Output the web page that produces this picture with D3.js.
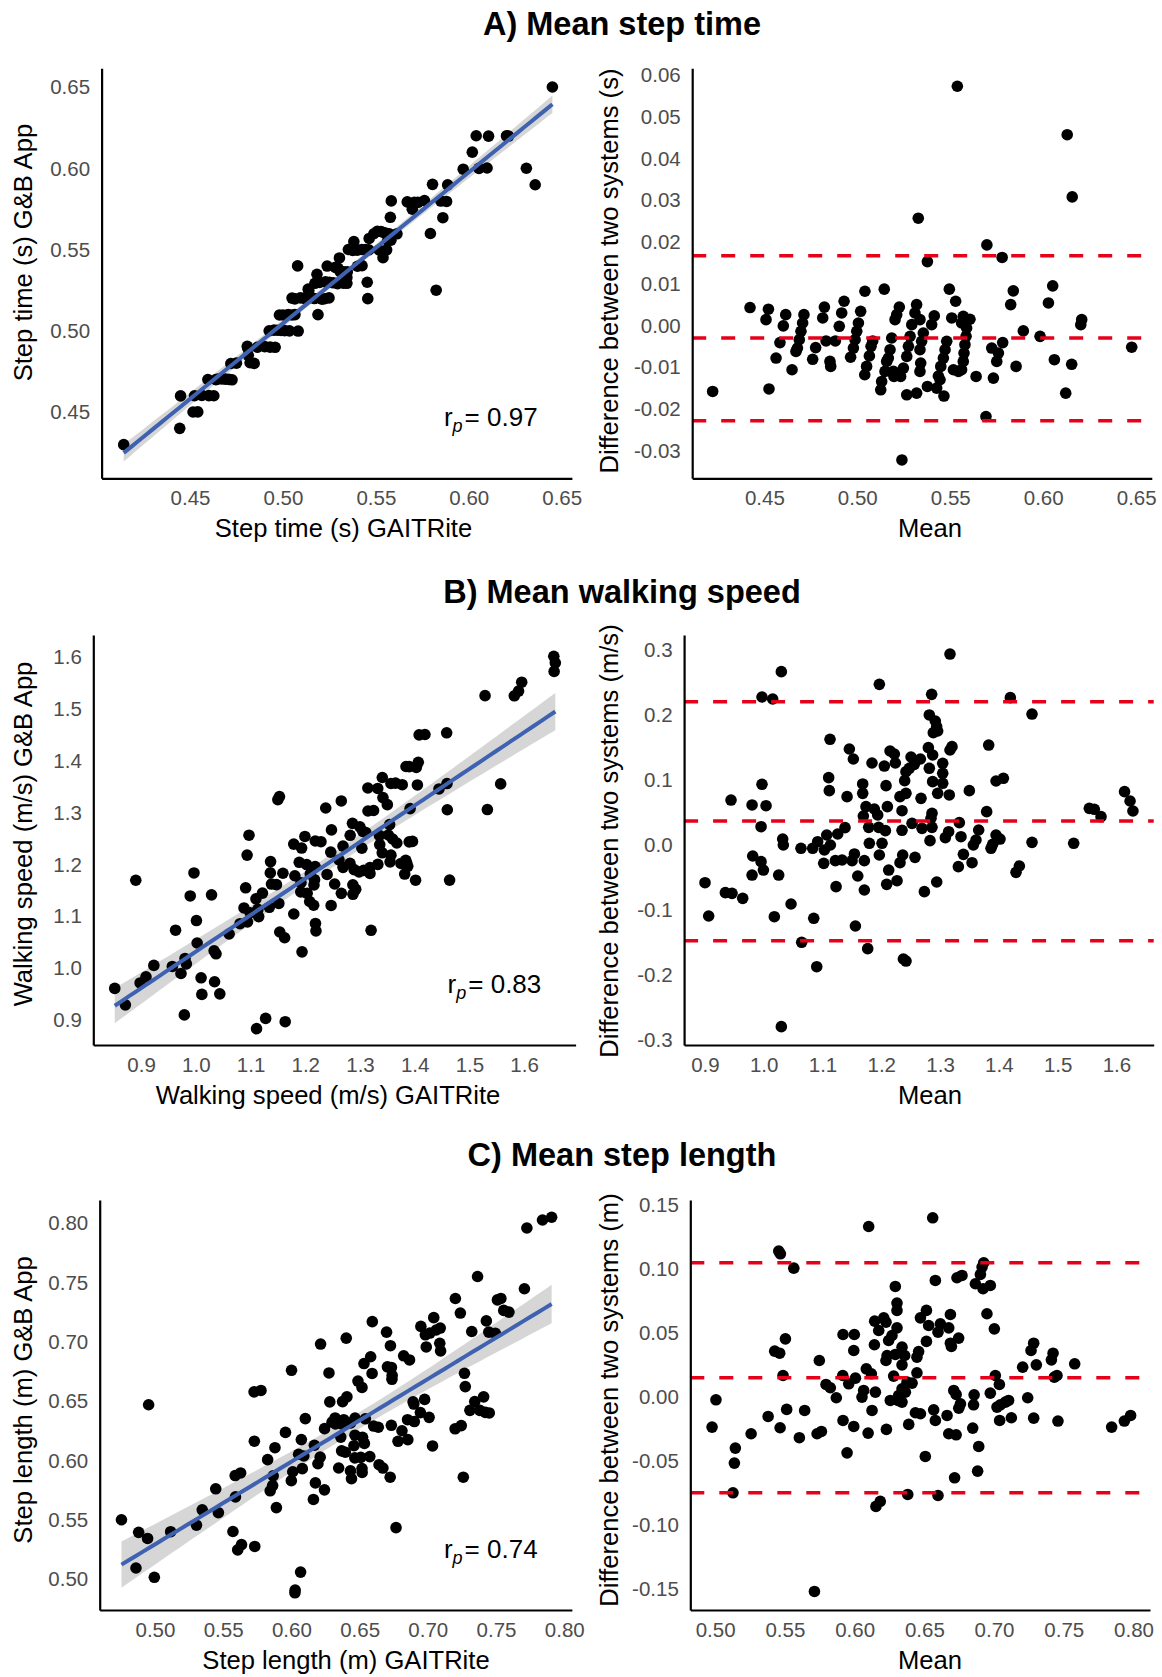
<!DOCTYPE html>
<html>
<head>
<meta charset="utf-8">
<script src="https://cdn.jsdelivr.net/npm/d3@7"></script>
<style>
    body { margin: 0; background: #fff; }
    text { font-family: "Liberation Sans", Arial, sans-serif; }
</style>
</head>
<body>
<svg id="vis_svg"></svg>
<script>
// Values: mean of both systems and GAITRite minus G&B App.
// The scatter panels use the same pairs, turned back into GAITRite / App values.
const stepTimeMean = [
    0.4423, 0.4522, 0.4509, 0.4615, 0.4602, 0.4713, 0.4706, 0.4697, 0.4688, 0.4678,
    0.4670, 0.4584, 0.4563, 0.4649, 0.4823, 0.4814, 0.4929, 0.4916, 0.4903, 0.4832,
    0.4882, 0.4776, 0.4760, 0.4853, 0.4857, 0.5041, 0.5018, 0.5006, 0.4997, 0.4988,
    0.4979, 0.4964, 0.5145, 0.5083, 0.5074, 0.5065, 0.5050, 0.5040, 0.5226, 0.5212,
    0.5203, 0.5185, 0.5176, 0.5167, 0.5158, 0.5149, 0.5131, 0.5126, 0.5319, 0.5310,
    0.5337, 0.5293, 0.5284, 0.5275, 0.5266, 0.5248, 0.5233, 0.5194, 0.5197, 0.5266,
    0.5319, 0.5377, 0.5427, 0.5466, 0.5436, 0.5445, 0.5400, 0.5414, 0.5355, 0.5346,
    0.5337, 0.5341, 0.5337, 0.5481, 0.5472, 0.5463, 0.5449, 0.5495, 0.5529, 0.5508,
    0.5570, 0.5606, 0.5561, 0.5588, 0.5585, 0.5579, 0.5574, 0.5570, 0.5561, 0.5517,
    0.5544, 0.5639, 0.5692, 0.5732, 0.5723, 0.5782, 0.5759, 0.5750, 0.5854, 0.5839,
    0.5825, 0.5893, 0.5983, 0.6051, 0.6028, 0.6060, 0.6121, 0.6153, 0.6207, 0.6202,
    0.4222, 0.4525, 0.5538, 0.6129, 0.6156, 0.5328, 0.5697, 0.5779, 0.5377, 0.5240, 0.6476
];
const stepTimeDiff = [
    0.0043, 0.0039, 0.0014, 0.0026, -0.0001, 0.0026, 0.0006, -0.0014, -0.0034, -0.0054,
    -0.0062, -0.0041, -0.0078, -0.0106, 0.0044, 0.0018, 0.0058, 0.0030, -0.0002, -0.0037,
    -0.0037, -0.0053, -0.0081, -0.0086, -0.0098, 0.0082, 0.0034, 0.0006, -0.0014, -0.0034,
    -0.0054, -0.0076, 0.0087, -0.0037, -0.0050, -0.0073, -0.0098, -0.0118, 0.0044, 0.0026,
    0.0014, -0.0030, -0.0058, -0.0078, -0.0086, -0.0110, -0.0134, -0.0154, 0.0050, 0.0030,
    0.0014, 0.0002, -0.0026, -0.0050, -0.0074, -0.0102, -0.0122, -0.0110, -0.0122, -0.0166,
    -0.0162, -0.0146, -0.0150, -0.0169, -0.0121, -0.0130, 0.0002, 0.0023, -0.0018, -0.0038,
    -0.0058, -0.0090, -0.0110, -0.0038, -0.0058, -0.0078, -0.0098, 0.0087, 0.0058, 0.0018,
    0.0022, 0.0015, 0.0006, -0.0006, -0.0026, -0.0046, -0.0066, -0.0086, -0.0106, -0.0106,
    -0.0110, -0.0122, -0.0218, -0.0126, -0.0054, -0.0041, -0.0066, -0.0086, -0.0098, 0.0083,
    0.0050, -0.0013, -0.0026, 0.0095, 0.0054, -0.0082, -0.0162, -0.0093, 0.0014, 0.0002,
    -0.0158, -0.0152, 0.0573, 0.0457, 0.0308, 0.0257, 0.0193, 0.0163, 0.0153, -0.0322, -0.0052
];

const walkSpeedMean = [
    1.3169, 1.0300, 1.1967, 0.9971, 1.0153, 1.2857, 1.4195, 1.4564, 1.2817, 1.2919,
    1.2942, 1.2885, 1.2959, 1.1128, 1.3827, 1.1457, 1.1525, 1.2149, 1.2222, 1.2801,
    1.2874, 1.3169, 1.3203, 1.1842, 1.2052, 1.2239, 1.2506, 1.2665, 1.2562, 1.2477,
    1.2420, 1.3045, 1.2817, 1.3045, 1.1105, 1.1116, 1.2398, 1.2874, 1.3045, 1.1684,
    1.1684, 1.2081, 1.2420, 1.2318, 1.2959, 1.3157, 1.3498, 1.3952, 1.4077, 1.1418,
    1.2676, 0.9971, 0.9444, 0.9802, 1.0040, 0.9955, 1.1740, 1.1882, 1.1939, 1.1695,
    1.2104, 1.2353, 1.2863, 1.2846, 1.3793, 1.5539, 1.5624, 1.5738, 1.2523, 1.1786,
    1.1956, 1.2070, 1.2353, 1.2693, 1.2863, 1.3328, 1.1383, 1.1259, 1.1072, 1.3657,
    1.3146, 1.3090, 1.3356, 1.3952, 1.4020, 1.0323, 1.0334, 1.0918, 1.0833, 1.1134,
    1.0634, 1.1797, 1.2013, 1.2829, 1.3611, 1.3566, 1.3895, 1.4564, 1.5273,
    1.1967, 1.1032, 0.9813, 0.9955, 0.9995, 0.9802, 1.0255, 1.1021, 1.1219, 1.1333,
    1.1503, 1.1543, 1.1712, 1.1600, 1.1231, 1.1712, 1.2126, 1.2092, 1.2268, 1.2364,
    1.2319, 1.2574, 1.2733, 1.2943, 1.3397, 1.3544, 1.3311, 1.4349, 1.4292, 0.9002,
    0.9348, 0.9461, 0.9643, 0.9064, 1.0181, 1.0465, 1.0851, 1.1560, 1.0646, 1.1769,
    1.0902, 1.2376, 1.2421, 1.0300, 1.3867, 1.6138, 1.6232, 1.6281
];
const walkSpeedDiff = [
    0.2938, 0.2667, 0.2472, 0.2277, 0.2246, 0.2318, 0.2267, 0.2015, 0.2001, 0.1908,
    0.1821, 0.1728, 0.1754, 0.1626, 0.1538, 0.1477, 0.1323, 0.1446, 0.1400, 0.1498,
    0.1385, 0.1462, 0.1513, 0.1262, 0.1215, 0.1262, 0.1354, 0.1323, 0.1241, 0.1180,
    0.1128, 0.1257, 0.1180, 0.1103, 0.1036, 0.0836, 0.0990, 0.0975, 0.0949, 0.0939,
    0.0795, 0.0913, 0.0795, 0.0744, 0.0795, 0.0770, 0.0836, 0.0985, 0.1026, 0.0744,
    0.0718, 0.0934, 0.0692, 0.0616, 0.0605, 0.0282, 0.0590, 0.0554, 0.0462, 0.0446,
    0.0590, 0.0528, 0.0487, 0.0410, 0.0513, 0.0564, 0.0549, 0.0436, 0.0333, 0.0272,
    0.0272, 0.0221, 0.0226, 0.0256, 0.0272, 0.0344, 0.0267, 0.0169, 0.0154, 0.0231,
    0.0205, 0.0113, 0.0128, 0.0154, 0.0092, 0.0092, 0.0000, 0.0051, -0.0051, 0.0000,
    -0.0051, 0.0026, 0.0026, 0.0067, 0.0077, 0.0000, 0.0010, 0.0041, 0.0026,
    -0.0154, -0.0077, -0.0169, -0.0256, -0.0385, -0.0462, -0.0462, -0.0282, -0.0241, -0.0231,
    -0.0241, -0.0138, -0.0241, -0.0477, -0.0641, -0.0692, -0.0385, -0.0605, -0.0549, -0.0154,
    -0.0272, -0.0190, -0.0718, -0.0569, -0.0144, -0.0272, -0.0333, -0.0323, -0.0421, -0.0580,
    -0.0733, -0.0744, -0.0821, -0.1092, -0.1103, -0.0908, -0.1128, -0.1246, -0.1497, -0.1595,
    -0.1872, -0.1754, -0.1785, -0.2795, -0.0051, 0.0821, 0.0677, 0.0523
];

const stepLengthMean = [
    0.6560, 0.6101, 0.5456, 0.5468, 0.5564, 0.6926, 0.6914, 0.6902, 0.6579, 0.6734,
    0.6770, 0.6866, 0.6921, 0.6973, 0.6292, 0.6304, 0.6304, 0.6949, 0.7002, 0.6515,
    0.6472, 0.6531, 0.6687, 0.6144, 0.6209, 0.6225, 0.6173, 0.6304, 0.6268, 0.6244,
    0.6615, 0.6675, 0.6598, 0.6515, 0.6746, 0.6687, 0.6694, 0.5504, 0.5427, 0.5463,
    0.5917, 0.5998, 0.5994, 0.6142, 0.5747, 0.6340, 0.6359, 0.6292, 0.6233, 0.6225,
    0.6340, 0.6459, 0.6447, 0.6084, 0.6120, 0.5915, 0.6006, 0.5958, 0.6280, 0.6447,
    0.5487, 0.7284, 0.7265, 0.7303, 0.7205, 0.7423, 0.7411, 0.7578, 0.7432, 0.7451,
    0.7009, 0.7038, 0.5795, 0.5826, 0.5869, 0.6065, 0.6149, 0.6053, 0.6376, 0.6412,
    0.6340, 0.6364, 0.6316, 0.6711, 0.6728, 0.6857, 0.6973, 0.7241, 0.5006, 0.6256, 0.6340, 0.6311,
    0.6125, 0.4978, 0.5145, 0.5138, 0.5128, 0.5258, 0.5380, 0.5466, 0.5513, 0.5604,
    0.5642, 0.5731, 0.5762, 0.5917, 0.5994, 0.5946, 0.6097, 0.6228, 0.6388, 0.6436,
    0.6472, 0.6567, 0.6579, 0.6663, 0.6675, 0.6728, 0.6759, 0.6747, 0.6847, 0.6890,
    0.6882, 0.6507, 0.6717, 0.7040, 0.7124, 0.7284, 0.7458, 0.6153, 0.6184, 0.6381,
    0.6598, 0.5712, 0.7045, 0.7081, 0.7104, 0.7021, 0.6853, 0.7843, 0.7934, 0.7979
];
const stepLengthDiff = [
    0.1400, 0.1332, 0.1140, 0.1119, 0.1007, 0.1049, 0.1015, 0.0958, 0.0911, 0.0932,
    0.0950, 0.0885, 0.0846, 0.0872, 0.0864, 0.0734, 0.0677, 0.0651, 0.0533, 0.0677,
    0.0619, 0.0559, 0.0645, 0.0593, 0.0619, 0.0585, 0.0520, 0.0541, 0.0481, 0.0442,
    0.0572, 0.0541, 0.0507, 0.0435, 0.0461, 0.0421, 0.0396, 0.0455, 0.0359, 0.0343,
    0.0489, 0.0489, 0.0364, 0.0409, 0.0286, 0.0390, 0.0325, 0.0333, 0.0325, 0.0286,
    0.0252, 0.0356, 0.0312, 0.0221, 0.0182, 0.0169, 0.0148, 0.0104, 0.0164, 0.0190,
    0.0169, 0.0421, 0.0364, 0.0252, 0.0234, 0.0343, 0.0291, 0.0260, 0.0156, 0.0169,
    0.0169, 0.0099, 0.0099, 0.0073, -0.0005, 0.0052, 0.0039, 0.0000, 0.0117, 0.0109,
    0.0065, 0.0039, 0.0013, 0.0052, 0.0021, 0.0018, 0.0031, -0.0005, -0.0021, -0.0026, -0.0039, -0.0026,
    -0.0104, -0.0234, -0.0398, -0.0515, -0.0747, -0.0286, -0.0151, -0.0239, -0.0096, -0.0317,
    -0.0104, -0.0286, -0.0268, -0.0182, -0.0229, -0.0435, -0.0281, -0.0252, -0.0213, -0.0122,
    -0.0130, -0.0099, -0.0182, -0.0143, -0.0286, -0.0294, -0.0052, -0.0086, -0.0242, -0.0385,
    -0.0578, -0.0463, -0.0630, -0.0182, -0.0161, -0.0164, -0.0187, -0.0853, -0.0814, -0.0760,
    -0.0768, -0.1517, -0.0060, -0.0039, -0.0026, -0.0078, -0.0060, -0.0234, -0.0187, -0.0143
];

// Limits of agreement (lower, mean bias, upper) as drawn
const stepTimeLoA = [-0.0228, -0.0030, 0.0167];
const walkSpeedLoA = [-0.1472, 0.0369, 0.2205];
const stepLengthLoA = [-0.0747, 0.0151, 0.1049];

// Tick values
const stepTimeTicks = [0.45, 0.50, 0.55, 0.60, 0.65];
const stepTimeDiffTicks = [-0.03, -0.02, -0.01, 0.00, 0.01, 0.02, 0.03, 0.04, 0.05, 0.06];
const walkSpeedTicks = [0.9, 1.0, 1.1, 1.2, 1.3, 1.4, 1.5, 1.6];
const walkSpeedDiffTicks = [-0.3, -0.2, -0.1, 0.0, 0.1, 0.2, 0.3];
const stepLengthTicks = [0.50, 0.55, 0.60, 0.65, 0.70, 0.75, 0.80];
const stepLengthDiffTicks = [-0.15, -0.10, -0.05, 0.00, 0.05, 0.10, 0.15];

const rowTitles = ['A) Mean step time', 'B) Mean walking speed', 'C) Mean step length'];
const corrValues = ['0.97', '0.83', '0.74'];
const xLabels = ['Step time (s) GAITRite', 'Walking speed (m/s) GAITRite', 'Step length (m) GAITRite'];
const yLabels = ['Step time (s) G&B App', 'Walking speed (m/s) G&B App', 'Step length (m) G&B App'];
const diffLabels = ['Difference between two systems (s)', 'Difference between two systems (m/s)',
    'Difference between two systems (m)'];

// Layout
let config = {
    width: 1162,
    height: 1677,
    pointR: 5.8,
    tickFont: 20.5,
    titleFont: 25.6,
    rowTitleX: 622,
};

let rows = [
    {
        title: rowTitles[0], titleY: 35, mean: stepTimeMean, diff: stepTimeDiff, loa: stepTimeLoA,
        r: corrValues[0], fmt: '.2f',
        left: { box: [101.6, 68.3, 571.9, 478.3], xDomain: [0.4024, 0.6555], yDomain: [0.4094, 0.6617],
            xTicks: stepTimeTicks, yTicks: stepTimeTicks, xTitleX: 343.5, yTitleY: 252.6 },
        right: { box: [692.2, 68.3, 1151.8, 478.3], xDomain: [0.4112, 0.6584], yDomain: [-0.0366, 0.0616],
            xTicks: stepTimeTicks, yTicks: stepTimeDiffTicks, xTitleX: 930, yTitleY: 271 }
    },
    {
        title: rowTitles[1], titleY: 603, mean: walkSpeedMean, diff: walkSpeedDiff, loa: walkSpeedLoA,
        r: corrValues[1], fmt: '.1f',
        left: { box: [93.3, 635, 575.6, 1045], xDomain: [0.8126, 1.6941], yDomain: [0.8517, 1.6431],
            xTicks: walkSpeedTicks, yTicks: walkSpeedTicks, xTitleX: 328, yTitleY: 834 },
        right: { box: [684.1, 635, 1153.7, 1045], xDomain: [0.8646, 1.6634], yDomain: [-0.3077, 0.3231],
            xTicks: walkSpeedTicks, yTicks: walkSpeedDiffTicks, xTitleX: 930, yTitleY: 841 }
    },
    {
        title: rowTitles[2], titleY: 1166, mean: stepLengthMean, diff: stepLengthDiff, loa: stepLengthLoA,
        r: corrValues[2], fmt: '.2f',
        left: { box: [99.7, 1200, 571.9, 1610], xDomain: [0.4595, 0.8056], yDomain: [0.4741, 0.8196],
            xTicks: stepLengthTicks, yTicks: stepLengthTicks, xTitleX: 346, yTitleY: 1400 },
        right: { box: [690.3, 1200, 1150, 1610], xDomain: [0.4822, 0.8118], yDomain: [-0.1662, 0.1539],
            xTicks: stepLengthTicks, yTicks: stepLengthDiffTicks, xTitleX: 930, yTitleY: 1400 }
    }
];

let svg = d3.select('#vis_svg')
    .attr('width', config.width)
    .attr('height', config.height);

svg.append('rect').attr('width', config.width).attr('height', config.height).style('fill', '#fff');

rows.forEach(function(row, i) {
    // pairs back from mean / difference (difference = GAITRite - App)
    let pairs = row.mean.map((m, k) => ({
        mean: m,
        diff: row.diff[k],
        gait: m + row.diff[k] / 2,
        app: m - row.diff[k] / 2
    }));

    svg.append('text')
        .attr('x', config.rowTitleX)
        .attr('y', row.titleY)
        .attr('text-anchor', 'middle')
        .style('font-size', '32.5px')
        .style('font-weight', 'bold')
        .style('fill', '#000')
        .text(row.title);

    drawScatter(row, pairs, i);
    drawBlandAltman(row, pairs, i);
});

function makeScales(p) {
    let x = d3.scaleLinear().domain(p.xDomain).range([p.box[0], p.box[2]]);
    let y = d3.scaleLinear().domain(p.yDomain).range([p.box[3], p.box[1]]);
    return { x: x, y: y };
}

function drawAxes(g, p, s, fmt, xTitle, yTitle, yTitleX) {
    let f = d => d3.format(fmt)(d).replace('\u2212', '-');

    let xAxis = g.append('g')
        .attr('transform', translate(0, p.box[3]))
        .call(d3.axisBottom(s.x).tickValues(p.xTicks).tickFormat(f).tickSize(0).tickPadding(12.5));
    let yAxis = g.append('g')
        .attr('transform', translate(p.box[0], 0))
        .call(d3.axisLeft(s.y).tickValues(p.yTicks).tickFormat(f).tickSize(0).tickPadding(11.5));

    [xAxis, yAxis].forEach(a => {
        a.select('.domain').style('stroke', '#000').style('stroke-width', 2.2);
        a.selectAll('text')
            .style('font-size', config.tickFont + 'px')
            .style('font-family', '"Liberation Sans", Arial, sans-serif')
            .style('fill', '#4d4d4d');
    });

    g.append('text')
        .attr('x', p.xTitleX)
        .attr('y', p.box[3] + 59)
        .attr('text-anchor', 'middle')
        .style('font-size', config.titleFont + 'px')
        .style('fill', '#000')
        .text(xTitle);

    g.append('text')
        .attr('transform', translate(yTitleX, p.yTitleY) + ' rotate(-90)')
        .attr('text-anchor', 'middle')
        .style('font-size', config.titleFont + 'px')
        .style('fill', '#000')
        .text(yTitle);
}

function linearFit(xs, ys) {
    let n = xs.length;
    let mx = d3.mean(xs), my = d3.mean(ys);
    let sxx = 0, sxy = 0;
    for (let k = 0; k < n; k++) {
        sxx += (xs[k] - mx) * (xs[k] - mx);
        sxy += (xs[k] - mx) * (ys[k] - my);
    }
    let b = sxy / sxx;
    let a = my - b * mx;
    let sse = 0;
    for (let k = 0; k < n; k++) {
        let e = ys[k] - (a + b * xs[k]);
        sse += e * e;
    }
    return { a: a, b: b, s: Math.sqrt(sse / (n - 2)), n: n, mx: mx, sxx: sxx };
}

function drawScatter(row, pairs, i) {
    let p = row.left;
    let s = makeScales(p);
    let g = svg.append('g').attr('id', 'scatter_' + i);

    let xs = pairs.map(d => d.gait);
    let ys = pairs.map(d => d.app);
    let fit = linearFit(xs, ys);
    let t = 1.976;
    let ext = d3.extent(xs);
    let band = d3.range(0, 61).map(k => {
        let xv = ext[0] + (ext[1] - ext[0]) * k / 60;
        let yv = fit.a + fit.b * xv;
        let se = fit.s * Math.sqrt(1 / fit.n + (xv - fit.mx) * (xv - fit.mx) / fit.sxx);
        return { x: xv, y: yv, lo: yv - t * se, hi: yv + t * se };
    });

    g.append('path')
        .datum(band)
        .attr('d', d3.area().x(d => s.x(d.x)).y0(d => s.y(d.lo)).y1(d => s.y(d.hi)))
        .style('fill', '#999999')
        .style('fill-opacity', 0.4);

    g.selectAll('circle')
        .data(pairs)
        .enter().append('circle')
        .attr('cx', d => s.x(d.gait))
        .attr('cy', d => s.y(d.app))
        .attr('r', config.pointR)
        .style('fill', '#000');

    g.append('path')
        .datum(band)
        .attr('d', d3.line().x(d => s.x(d.x)).y(d => s.y(d.y)))
        .style('fill', 'none')
        .style('stroke', '#3f62b0')
        .style('stroke-width', 4);

    drawAxes(g, p, s, row.fmt, xLabels[i], yLabels[i], 32);

    // r_p annotation
    let lab = g.append('text')
        .attr('x', p.box[2] - 128)
        .attr('y', p.box[3] - 52)
        .style('font-size', '26px')
        .style('fill', '#000');
    lab.append('tspan').text('r');
    lab.append('tspan').attr('dy', 6).style('font-size', '18px').style('font-style', 'italic').text('p');
    lab.append('tspan').attr('dy', -6).attr('dx', 2).text('= ' + row.r);
}

function drawBlandAltman(row, pairs, i) {
    let p = row.right;
    let s = makeScales(p);
    let g = svg.append('g').attr('id', 'bland_' + i);

    g.selectAll('circle')
        .data(pairs)
        .enter().append('circle')
        .attr('cx', d => s.x(d.mean))
        .attr('cy', d => s.y(d.diff))
        .attr('r', config.pointR)
        .style('fill', '#000');

    g.selectAll('line.loa')
        .data(row.loa)
        .enter().append('line')
        .attr('class', 'loa')
        .attr('x1', p.box[0])
        .attr('x2', p.box[2])
        .attr('y1', d => s.y(d))
        .attr('y2', d => s.y(d))
        .style('stroke', '#e6001a')
        .style('stroke-width', 3.6)
        .style('stroke-dasharray', '14,15');

    drawAxes(g, p, s, row.fmt, 'Mean', diffLabels[i], 618);
}

// Helper functions
function translate(x, y) {
    return 'translate(' + x + ',' + y + ')';
}
</script>
</body>
</html>
